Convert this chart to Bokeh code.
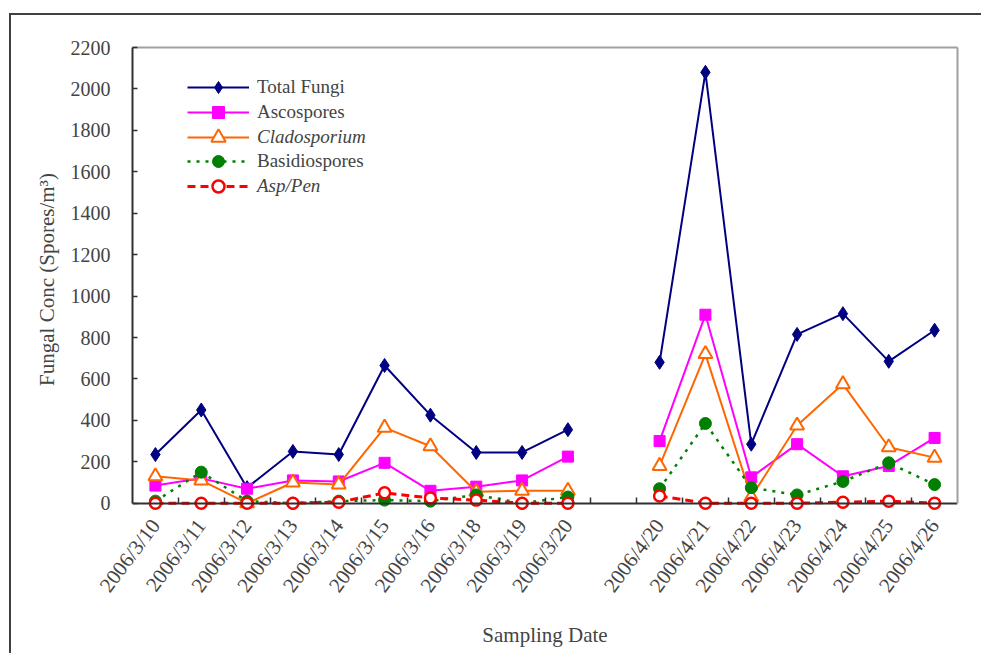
import numpy as np
from bokeh.plotting import figure
from bokeh.models import (ColumnDataSource, Range1d, LinearAxis, FixedTicker,
                          Legend, LegendItem)
from bokeh.embed import file_html
from bokeh.resources import INLINE

# ---------------- data ----------------
dates = ["2006/3/10", "2006/3/11", "2006/3/12", "2006/3/13", "2006/3/14",
         "2006/3/15", "2006/3/16", "2006/3/18", "2006/3/19", "2006/3/20",
         "",
         "2006/4/20", "2006/4/21", "2006/4/22", "2006/4/23", "2006/4/24",
         "2006/4/25", "2006/4/26"]
total_fungi = [235, 450, 75, 250, 235, 665, 425, 245, 245, 355, None,
               680, 2080, 285, 815, 915, 685, 835]
ascospores = [85, 120, 70, 110, 105, 195, 60, 80, 110, 225, None,
              300, 910, 125, 285, 130, 180, 315]
cladosporium = [130, 110, 0, 100, 90, 365, 275, 55, 60, 60, None,
                180, 720, 30, 375, 575, 270, 220]
basidiospores = [10, 150, 10, 0, 10, 15, 10, 40, 0, 30, None,
                 70, 385, 75, 40, 105, 195, 90]
asp_pen = [0, 0, 0, 0, 5, 50, 25, 15, 0, 0, None,
           35, 0, 0, 0, 5, 10, 0]
y_ticks = [0, 200, 400, 600, 800, 1000, 1200, 1400, 1600, 1800, 2000, 2200]

FONT = "Liberation Serif"
n = len(dates)
xs = [i + 0.5 for i in range(n)]


def arr(v):
    return [np.nan if a is None else a for a in v]


src = ColumnDataSource(dict(x=xs, total=arr(total_fungi), asco=arr(ascospores),
                            clado=arr(cladosporium), basidio=arr(basidiospores),
                            asppen=arr(asp_pen)))

p = figure(width=972, height=640, x_range=Range1d(0, n), y_range=Range1d(-40, 2200),
           x_axis_type=None, y_axis_type=None, output_backend="svg",
           toolbar_location=None, title=None,
           min_border_left=121, min_border_right=26, min_border_top=32,
           min_border_bottom=144, outline_line_color=None,
           background_fill_color="white", border_fill_color="white")
p.styles = {"position": "relative", "left": "9px", "top": "13px",
            "border-left": "2px solid #404040", "border-top": "2px solid #404040"}

# ---------------- axes ----------------
yaxis = LinearAxis(ticker=FixedTicker(ticks=y_ticks), bounds=(0, 2200),
                   axis_label="Fungal Conc (Spores/m\u00b3)",
                   axis_label_text_font=FONT, axis_label_text_font_size="21px",
                   axis_label_text_font_style="normal", axis_label_standoff=9,
                   major_label_text_font=FONT, major_label_text_font_size="20px",
                   major_label_standoff=22,
                   major_tick_in=5, major_tick_out=0, minor_tick_line_color=None,
                   axis_line_color="#303030", axis_line_width=2,
                   major_tick_line_color="#303030", major_tick_line_width=1.5)
p.add_layout(yaxis, "left")

# labels axis at the bottom of the frame (no line, no ticks)
label_pos = [x for x, d in zip(xs, dates) if d]
overrides = {x: d for x, d in zip(xs, dates) if d}
xlabels = LinearAxis(ticker=FixedTicker(ticks=label_pos),
                     major_label_overrides=overrides,
                     major_label_orientation=np.deg2rad(53),
                     axis_label="Sampling Date",
                     axis_label_text_font=FONT, axis_label_text_font_size="21px",
                     axis_label_text_font_style="normal", axis_label_standoff=16,
                     major_label_text_font=FONT, major_label_text_font_size="21px",
                     major_label_standoff=4,
                     major_tick_line_color=None, minor_tick_line_color=None,
                     axis_line_color=None)
p.add_layout(xlabels, "below")

# zero line with category-boundary ticks (minor ticks: no label texts)
xline = LinearAxis(ticker=FixedTicker(ticks=[], minor_ticks=list(range(1, n))),
                   fixed_location=0,
                   major_tick_line_color=None,
                   minor_tick_in=6, minor_tick_out=0,
                   minor_tick_line_color="#303030", minor_tick_line_width=1.5,
                   axis_line_color="#303030", axis_line_width=2)
p.add_layout(xline, "below")

right_axis = LinearAxis(ticker=FixedTicker(ticks=[]), bounds=(0, 2200),
                        major_tick_line_color=None,
                        minor_tick_line_color=None, axis_line_color="#a0a0a0",
                        axis_line_width=2)
p.add_layout(right_axis, "right")
top_axis = LinearAxis(ticker=FixedTicker(ticks=[]),
                      major_tick_line_color=None,
                      minor_tick_line_color=None, axis_line_color="#a0a0a0",
                      axis_line_width=2)
p.add_layout(top_axis, "above")

# ---------------- series ----------------
r1l = p.line("x", "total", source=src, line_color="#000080", line_width=2)
r1m = p.scatter("x", "total", source=src, marker="diamond", size=14,
                fill_color="#000080", line_color="#000080")
r2l = p.line("x", "asco", source=src, line_color="#FF00FF", line_width=2)
r2m = p.scatter("x", "asco", source=src, marker="square", size=11,
                fill_color="#FF00FF", line_color="#FF00FF")
r3l = p.line("x", "clado", source=src, line_color="#FF6600", line_width=2)
r3m = p.scatter("x", "clado", source=src, marker="triangle", size=14,
                fill_color="white", line_color="#FF6600", line_width=2)
r4l = p.line("x", "basidio", source=src, line_color="#008000", line_width=2.5,
             line_dash="3 6")
r4m = p.scatter("x", "basidio", source=src, marker="circle", size=12,
                fill_color="#008000", line_color="#008000")
r5l = p.line("x", "asppen", source=src, line_color="#FF0000", line_width=3,
             line_dash="8 5")
r5m = p.scatter("x", "asppen", source=src, marker="circle", size=11,
                fill_color="white", line_color="#FF0000", line_width=2.5)

# ---------------- legends (one per entry for mixed italic) ----------------
legend_entries = [
    ("Total Fungi", [r1l, r1m], 409, 30, "normal"),
    ("Ascospores", [r2l, r2m], 384, 30, "normal"),
    ("Cladosporium", [r3l, r3m], 356, 36, "italic"),
    ("Basidiospores", [r4l, r4m], 335, 30, "normal"),
    ("Asp/Pen", [r5l, r5m], 310, 30, "italic"),
]
for label, rends, vy, gh, style in legend_entries:
    leg = Legend(items=[LegendItem(label=label, renderers=rends)],
                 location=(55, vy), background_fill_alpha=0,
                 border_line_color=None, padding=0, margin=0, spacing=0,
                 glyph_width=62, glyph_height=gh, label_height=gh,
                 label_standoff=8, label_text_font=FONT,
                 label_text_font_size="19px", label_text_font_style=style)
    p.add_layout(leg)

open("out.html", "w").write(file_html(p, INLINE))
